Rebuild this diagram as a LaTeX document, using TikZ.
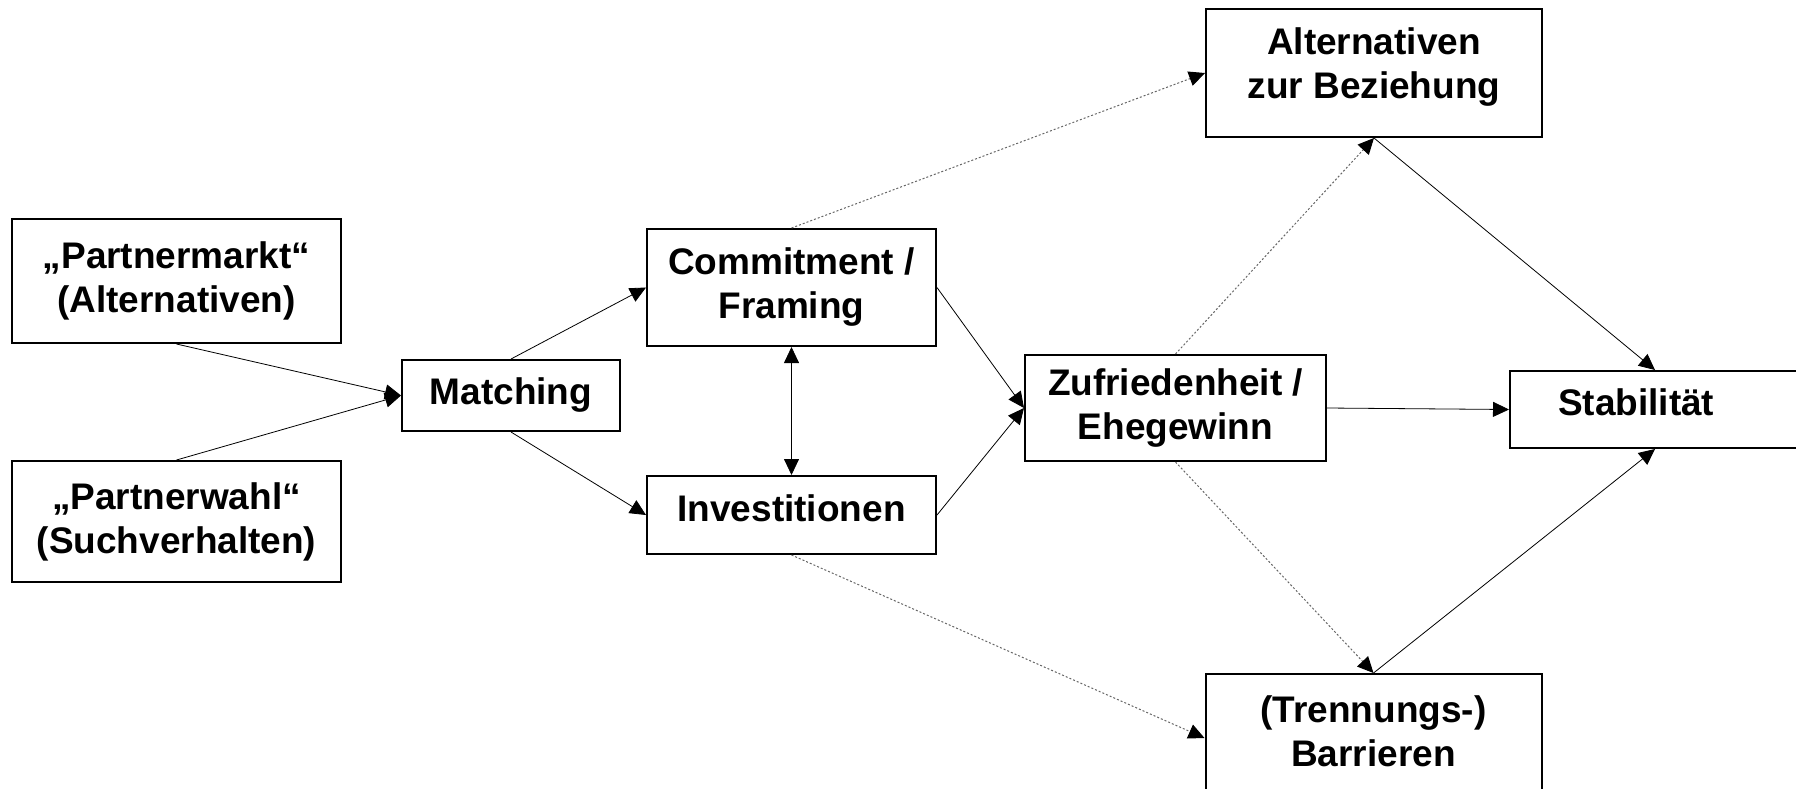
\documentclass[tikz,border=0pt]{standalone}
\usepackage{fontspec}
\setmainfont{Liberation Sans}
\usetikzlibrary{arrows.meta}
\begin{document}
\begin{tikzpicture}[x=1pt, y=-1pt,
    every node/.style={font=\fontsize{37}{44}\selectfont\bfseries, align=center},
    box/.style={draw, line width=2pt, inner sep=0pt},
    link/.style={line width=0.8pt, -{Triangle[length=16pt, width=15pt]}},
    link2/.style={line width=0.8pt, {Triangle[length=16pt, width=15pt]}-{Triangle[length=16pt, width=15pt]}},
    dotlink/.style={line width=1pt, black!60, dash pattern=on 2pt off 2pt, -{Triangle[length=16pt, width=15pt, black]}}]

    % Picture frame
    \useasboundingbox (0,0) rectangle (1796,788);

    % Left column
    \node[box, minimum width=329pt, minimum height=124pt] (markt) at (176.5,281) {„Partnermarkt“\\(Alternativen)};
    \node[box, minimum width=329pt, minimum height=121pt] (wahl) at (176.5,521.5) {„Partnerwahl“\\(Suchverhalten)};
    \node[box, minimum width=218pt, minimum height=71pt] (match) at (511,395.5) {Matching};

    % Middle column
    \node[box, minimum width=289pt, minimum height=117pt] (commit) at (791.5,287.5) {Commitment /\\Framing};
    \node[box, minimum width=289pt, minimum height=78pt, text depth=14pt] (invest) at (791.5,515) {Investitionen};
    \node[box, minimum width=301pt, minimum height=106pt] (zufr) at (1175.5,408) {Zufriedenheit /\\Ehegewinn};

    % Right column
    \node[box, minimum width=336pt, minimum height=128pt] (alt) at (1374,73) {Alternativen\\zur Beziehung\rule[-20pt]{0pt}{20pt}};
    \node[box, minimum width=336pt, minimum height=128pt] (barr) at (1373.5,738) {(Trennungs-)\\Barrieren\rule[-14pt]{0pt}{14pt}};
    \node[box, minimum width=290pt, minimum height=77pt, text depth=14pt, text width=194pt, align=left, inner xsep=48pt] (stab) at (1655,409.5) {Stabilität};

    % Solid connectors
    \draw[link] (markt.south) -- (match.west);
    \draw[link] (wahl.north) -- (match.west);
    \draw[link] (match.north) -- (commit.west);
    \draw[link] (match.south) -- (invest.west);
    \draw[link2] (commit.south) -- (invest.north);
    \draw[link] (commit.east) -- (zufr.west);
    \draw[link] (invest.east) -- (zufr.west);
    \draw[link] (zufr.east) -- (stab.west);
    \draw[link] (alt.south) -- (stab.north);
    \draw[link] (barr.north) -- (stab.south);

    % Dotted connectors
    \draw[dotlink] (commit.north) -- (alt.west);
    \draw[dotlink] (invest.south) -- (barr.west);
    \draw[dotlink] (zufr.north) -- (alt.south);
    \draw[dotlink] (zufr.south) -- (barr.north);

\end{tikzpicture}
\end{document}
